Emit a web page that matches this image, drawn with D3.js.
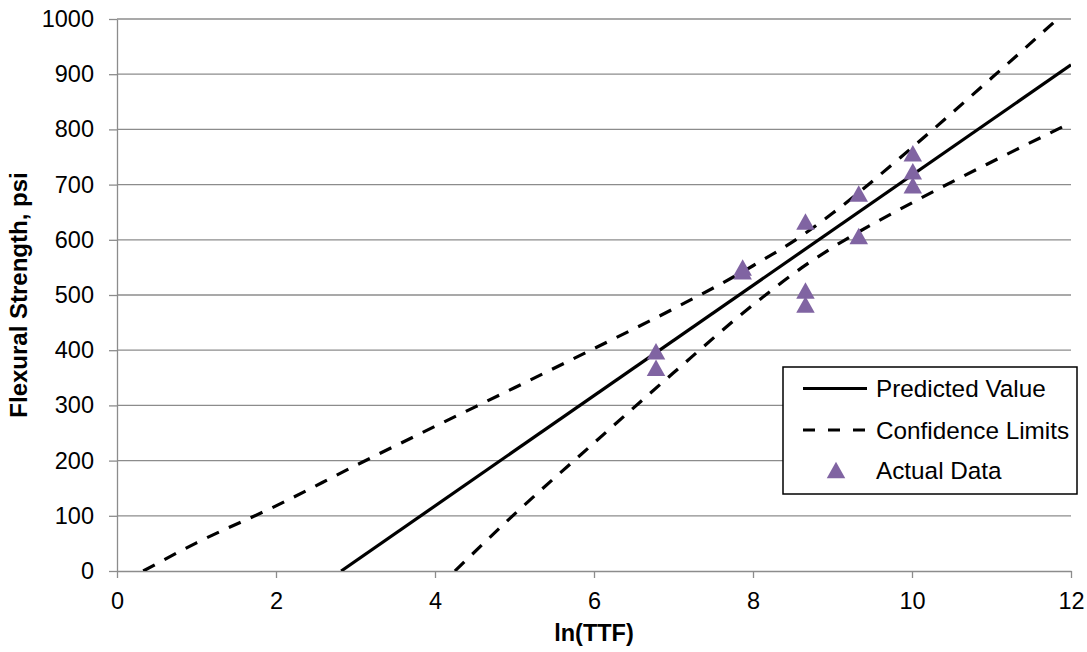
<!DOCTYPE html>
<html>
<head>
<meta charset="utf-8">
<script src="https://cdn.jsdelivr.net/npm/d3@7"></script>
<style>
  html, body { margin: 0; padding: 0; background: #ffffff; }
  svg { display: block; font-family: "Liberation Sans", Arial, sans-serif; }
</style>
</head>
<body>
<svg id="chart" width="1087" height="652"></svg>
<script>
// ---- data ----
const xTicks = [0, 2, 4, 6, 8, 10, 12];
const yTicks = [0, 100, 200, 300, 400, 500, 600, 700, 800, 900, 1000];

// Actual data (ln(TTF), flexural strength psi)
const actualX = [6.78, 6.78, 7.87, 7.87, 8.66, 8.66, 8.66, 9.33, 9.33, 10.01, 10.01, 10.01];
const actualY = [398, 368, 550, 543, 633, 508, 483, 684, 607, 757, 724, 699];

// Predicted value (straight regression line)
const predX = [2.82, 12];
const predY = [0, 917];

// Confidence limits (curves)
const upperX = [0.33, 1, 2, 3, 4, 5, 6, 7, 8, 8.66, 9, 10, 11, 12];
const upperY = [0, 51, 118, 191, 262, 332, 403, 475, 553, 612, 648, 767, 893, 1022];
const lowerX = [4.25, 5, 6, 7, 8, 8.66, 9, 10, 11, 12];
const lowerY = [0, 103, 232, 359, 482, 554, 586, 667, 741, 812];

const legendLabels = ["Predicted Value", "Confidence Limits", "Actual Data"];

(function () {
// ---- layout ----
const svg = d3.select("#chart");
const mLeft = 117, mRight = 1071, mTop = 19, mBottom = 571;
const gridColor = "#8c8c8c";
const purple = "#8064A2";

const x = d3.scaleLinear().domain([0, 12]).range([mLeft, mRight]);
const y = d3.scaleLinear().domain([0, 1000]).range([mBottom, mTop]);

// gridlines
svg.append("g").selectAll("line")
  .data(yTicks.filter(d => d > 0))
  .join("line")
  .attr("x1", mLeft).attr("x2", mRight)
  .attr("y1", d => y(d)).attr("y2", d => y(d))
  .attr("stroke", gridColor).attr("stroke-width", 1.3);

// axes
const yAxis = svg.append("g")
  .attr("transform", `translate(${mLeft},0)`)
  .call(d3.axisLeft(y).tickValues(yTicks).tickSizeInner(8).tickSizeOuter(0).tickPadding(15).tickFormat(d3.format("d")));
const xAxis = svg.append("g")
  .attr("transform", `translate(0,${mBottom})`)
  .call(d3.axisBottom(x).tickValues(xTicks).tickSizeInner(7).tickSizeOuter(0).tickPadding(14).tickFormat(d3.format("d")));

[yAxis, xAxis].forEach(a => {
  a.select(".domain").attr("stroke", gridColor).attr("stroke-width", 1.3);
  a.selectAll(".tick line").attr("stroke", gridColor).attr("stroke-width", 1.3);
  a.selectAll(".tick text").attr("fill", "#000").attr("font-size", 23.5)
    .attr("font-family", "'Liberation Sans', Arial, sans-serif");
});

// clip to plot area
svg.append("clipPath").attr("id", "plotclip")
  .append("rect").attr("x", mLeft).attr("y", mTop).attr("width", mRight - mLeft).attr("height", mBottom - mTop);

const plot = svg.append("g").attr("clip-path", "url(#plotclip)");

const line = d3.line().x(d => x(d[0])).y(d => y(d[1]));
const curve = d3.line().x(d => x(d[0])).y(d => y(d[1])).curve(d3.curveMonotoneX);

const dash = "13,11";

plot.append("path")
  .datum(upperX.map((v, i) => [v, upperY[i]]))
  .attr("d", curve).attr("fill", "none").attr("stroke", "#000")
  .attr("stroke-width", 3.2).attr("stroke-dasharray", dash);
plot.append("path")
  .datum(lowerX.map((v, i) => [v, lowerY[i]]))
  .attr("d", curve).attr("fill", "none").attr("stroke", "#000")
  .attr("stroke-width", 3.2).attr("stroke-dasharray", dash);
plot.append("path")
  .datum(predX.map((v, i) => [v, predY[i]]))
  .attr("d", line).attr("fill", "none").attr("stroke", "#000")
  .attr("stroke-width", 3.2);

// triangle marker (centered on bounding box)
const triW = 18.5, triH = 16.5;
const triPath = `M0,${-triH / 2}L${triW / 2},${triH / 2}L${-triW / 2},${triH / 2}Z`;

svg.append("g").selectAll("path")
  .data(actualX.map((v, i) => [v, actualY[i]]))
  .join("path")
  .attr("d", triPath)
  .attr("transform", d => `translate(${x(d[0])},${y(d[1])})`)
  .attr("fill", purple);

// axis titles
svg.append("text")
  .attr("x", (mLeft + mRight) / 2).attr("y", 641)
  .attr("text-anchor", "middle").attr("font-size", 23.5).attr("font-weight", "bold")
  .text("ln(TTF)");
svg.append("text")
  .attr("transform", `translate(27,${(mTop + mBottom) / 2}) rotate(-90)`)
  .attr("text-anchor", "middle").attr("font-size", 24).attr("font-weight", "bold")
  .text("Flexural Strength, psi");

// legend
const lg = svg.append("g");
lg.append("rect").attr("x", 783).attr("y", 367).attr("width", 294).attr("height", 127)
  .attr("fill", "#fff").attr("stroke", "#000").attr("stroke-width", 1.5);
const rows = [388.5, 430, 470];
lg.append("line").attr("x1", 803).attr("x2", 867).attr("y1", rows[0]).attr("y2", rows[0])
  .attr("stroke", "#000").attr("stroke-width", 3.2);
lg.append("line").attr("x1", 803).attr("x2", 867).attr("y1", rows[1]).attr("y2", rows[1])
  .attr("stroke", "#000").attr("stroke-width", 3.2).attr("stroke-dasharray", "12,13");
lg.append("path").attr("d", triPath).attr("transform", `translate(836,${rows[2]})`).attr("fill", purple);
lg.selectAll("text.lab").data(legendLabels).join("text")
  .attr("class", "lab")
  .attr("x", 876).attr("y", (d, i) => rows[i]).attr("dy", "0.35em")
  .attr("font-size", 24.3).attr("fill", "#000")
  .text(d => d);
})();
</script>
</body>
</html>
